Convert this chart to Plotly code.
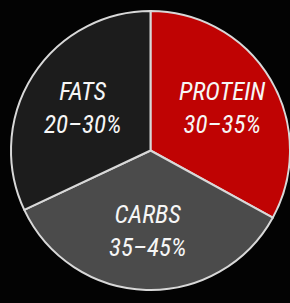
import plotly.graph_objects as go

# Data
categories = ["PROTEIN", "CARBS", "FATS"]
ranges = ["30–35%", "35–45%", "20–30%"]
slice_values = [33, 35, 32]  # visual slice sizes
colors = ["#bf0303", "#4b4b4b", "#1c1c1c"]

fig = go.Figure(
    go.Pie(
        labels=categories,
        values=slice_values,
        sort=False,
        direction="clockwise",
        rotation=0,
        textinfo="none",
        hoverinfo="skip",
        marker=dict(colors=colors, line=dict(color="#d8d8d8", width=2)),
        domain=dict(x=[11 / 290, 1.0], y=[13 / 303, 292 / 303]),
        showlegend=False,
    )
)

label_pos = {"PROTEIN": (0.766, 0.644), "CARBS": (0.510, 0.239), "FATS": (0.286, 0.645)}
for cat, rng in zip(categories, ranges):
    x, y = label_pos[cat]
    fig.add_annotation(
        x=x, y=y, xref="paper", yref="paper",
        text=f"{cat}<br>{rng}",
        showarrow=False,
        font=dict(family="Roboto Condensed, DejaVu Sans Condensed, sans-serif",
                  size=25, color="#f6f6f6", style="italic"),
        align="center", xanchor="center", yanchor="middle",
    )

fig.update_layout(
    width=290, height=303,
    margin=dict(l=0, r=0, t=0, b=0),
    paper_bgcolor="#030303",
    plot_bgcolor="#030303",
)

fig.write_html("out.html", config={"displayModeBar": False},
               post_script="document.body.style.margin='0';document.body.style.background='#030303';")
